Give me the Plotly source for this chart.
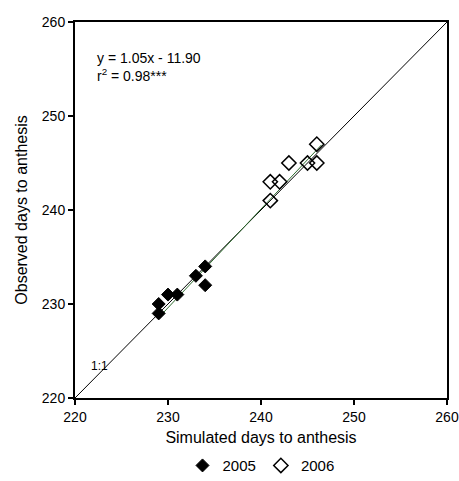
import plotly.graph_objects as go

x2005 = [229, 229, 230, 231, 233, 234, 234]
y2005 = [229, 230, 231, 231, 233, 234, 232]
x2006 = [241, 241, 242, 243, 245, 246, 246]
y2006 = [241, 243, 243, 245, 245, 245, 247]
one_to_one = [220, 260]
reg_x = [229, 246.5]
slope, intercept = 1.05, -11.90
tick_vals = [220, 230, 240, 250, 260]

font = "Liberation Sans, Arial, sans-serif"
fig = go.Figure()
fig.add_trace(go.Scatter(x=one_to_one, y=one_to_one, mode="lines",
                         line=dict(color="black", width=1), showlegend=False, hoverinfo="skip"))
fig.add_trace(go.Scatter(x=reg_x, y=[slope * v + intercept for v in reg_x], mode="lines",
                         line=dict(color="#2e6b2e", width=1), showlegend=False, hoverinfo="skip"))
fig.add_trace(go.Scatter(x=x2005, y=y2005, mode="markers", name="2005",
                         marker=dict(symbol="diamond", size=10, color="black",
                                     line=dict(color="black", width=1))))
fig.add_trace(go.Scatter(x=x2006, y=y2006, mode="markers", name="2006",
                         marker=dict(symbol="diamond-open", size=11, color="black",
                                     line=dict(color="black", width=1.5))))

fig.add_annotation(x=222.2, y=257.2, xanchor="left", yanchor="top", showarrow=False, align="left",
                   text="y = 1.05x - 11.90<br>r<sup>2</sup> = 0.98***",
                   font=dict(family=font, size=14, color="black"))
fig.add_annotation(x=222.6, y=223.4, showarrow=False, text="1:1",
                   font=dict(family=font, size=12, color="black"))

axis_common = dict(range=[220, 260], tickvals=tick_vals, showgrid=False, zeroline=False,
                   showline=True, linecolor="black", linewidth=2, mirror=True,
                   ticks="outside", ticklen=5, tickwidth=2, tickcolor="black",
                   tickfont=dict(family=font, size=14, color="black"), automargin=False)
fig.update_xaxes(title=dict(text="Simulated days to anthesis", font=dict(family=font, size=16, color="black"),
                            standoff=8), **axis_common)
fig.update_yaxes(title=dict(text="Observed days to anthesis", font=dict(family=font, size=16, color="black"),
                            standoff=10), **axis_common)

fig.update_layout(width=459, height=481, margin=dict(l=75, r=12, t=22, b=83, autoexpand=False),
                  plot_bgcolor="white", paper_bgcolor="white",
                  legend=dict(orientation="h", x=0.5, xanchor="center", y=-0.18, yanchor="middle",
                              font=dict(family=font, size=15, color="black"),
                              itemwidth=30, tracegroupgap=0))
fig.write_html("out.html")
